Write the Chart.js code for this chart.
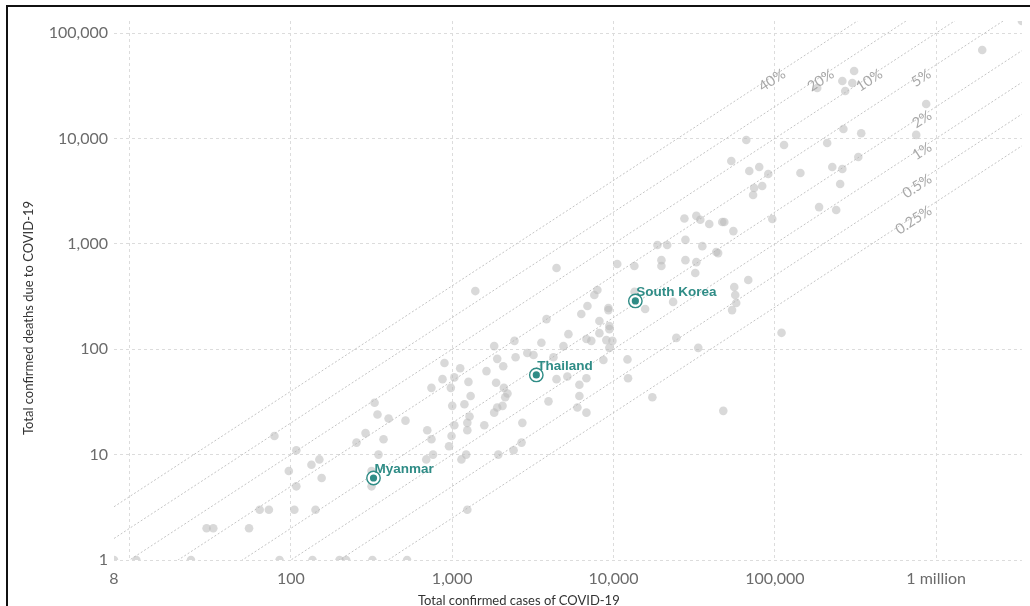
<!DOCTYPE html>
<html>
<head>
<meta charset="utf-8">
<script src="https://cdn.jsdelivr.net/npm/chart.js@4.4.0/dist/chart.umd.min.js"></script>
<style>
  html, body { margin: 0; padding: 0; background: #fff; }
  #wrap { position: relative; width: 1030px; height: 606px; overflow: hidden; }
  #frame { position: absolute; left: 6px; top: 5px; width: 1100px; height: 700px; border-top: 2px solid #111; border-left: 2px solid #111; pointer-events: none; }
  .axis-title { position: absolute; font: 13px Lato, sans-serif; color: #333; white-space: nowrap; }
  #xTitle { left: 418px; top: 592px; }
  #yTitle { left: -122px; top: 310px; width: 300px; text-align: center; transform: rotate(-90deg); }
</style>
</head>
<body>
<div id="wrap">
  <canvas id="chart" width="1030" height="606"></canvas>
  <div id="frame"></div>
  <div class="axis-title" id="xTitle">Total confirmed cases of COVID-19</div>
  <div class="axis-title" id="yTitle">Total confirmed deaths due to COVID-19</div>
</div>
<script>
// axis ranges and ticks
const xMin = 8, xMax = 3400000;
const yMin = 1, yMax = 130000;
const xTicks = [8, 10, 100, 1000, 10000, 100000, 1000000];
const xTickLabels = ['8', '', '100', '1,000', '10,000', '100,000', '1 million'];
const yTicks = [1, 10, 100, 1000, 10000, 100000];
const yTickLabels = ['1', '10', '100', '1,000', '10,000', '100,000'];

// case fatality rate guide lines
const cfrRates = [0.4, 0.2, 0.1, 0.05, 0.02, 0.01, 0.005, 0.0025];
const cfrNames = ['40%', '20%', '10%', '5%', '2%', '1%', '0.5%', '0.25%'];

// countries (grey dots)
const cases = [
  8, 11, 24, 85, 136, 200, 220, 320, 525, 30, 33, 55, 64, 73, 105, 142, 1240,
  79, 108, 97, 108, 134, 150, 155, 255, 290, 330, 344, 403, 375, 349, 316, 316,
  513, 690, 700, 743, 760, 955, 990, 1030, 1240, 1240, 1140, 1220, 1580, 1930, 2400, 2690,
  1000, 1190, 1300, 1260, 1280, 743, 870, 980, 895, 1120, 1030, 1820, 1900, 2050, 1870, 2090, 2200, 2130,
  1390, 1820, 1900, 2070, 1630, 2430, 2470, 2920, 3190, 3570, 3840, 4430, 2720, 3950, 4240, 4890, 5250,
  4430, 5170, 6140, 6790, 6140, 5970, 6790, 6790, 7280, 6310, 6890, 7600, 7940, 8170, 8170,
  9290, 9290, 9420, 9420, 9020, 9840, 9420, 8650, 12200, 12300, 10540, 13460, 13500, 15700, 17400,
  18700, 21500, 19800, 19800, 23400, 24500, 27500, 27900, 27900, 32600, 32100, 32600, 34500, 35500,
  39200, 43300, 44500, 47200, 48600, 55300, 53700, 66500, 69400, 80000, 91000, 74400, 83500, 73300,
  68400, 56000, 56800, 57600, 54300, 33500, 47900, 96400, 110000, 114000, 144000, 188000, 240000,
  254000, 211000, 227000, 262000, 266000, 343000, 329000, 183000, 262000, 302000, 273000, 310000,
  752000, 867000, 1930000, 3400000
];
const deaths = [
  1, 1, 1, 1, 1, 1, 1, 1, 1, 2, 2, 2, 3, 3, 3, 3, 3,
  15, 11, 7, 5, 8, 9, 6, 13, 16, 31, 24, 22, 14, 10, 7, 5,
  21, 9, 17, 14, 10, 12, 15, 19, 17, 20, 9, 10, 19, 10, 11, 13,
  29, 30, 36, 49, 23, 43, 52, 43, 74, 66, 54, 25, 28, 29, 48, 43, 38, 35,
  356, 107, 81, 69, 62, 120, 84, 92, 88, 115, 193, 590, 20, 32, 84, 107, 139,
  52, 55, 46, 53, 36, 28, 25, 125, 120, 216, 257, 327, 365, 185, 142,
  246, 235, 166, 155, 122, 120, 103, 79, 80, 53, 643, 615, 350, 241, 35,
  974, 974, 700, 615, 281, 128, 1740, 1090, 700, 670, 528, 1840, 1690, 950,
  1540, 836, 816, 1610, 1610, 1320, 6110, 9660, 4910, 5350, 4590, 3380, 3540, 2900,
  453, 389, 327, 274, 235, 103, 26, 1720, 143, 8650, 4700, 2230, 2090,
  3690, 9040, 5350, 5130, 12300, 11200, 6660, 30100, 35100, 33500, 28200, 43600,
  10800, 21200, 69000, 130000
];

// highlighted countries
const highlightNames = ['Myanmar', 'Thailand', 'South Korea'];
const highlightCases = [325, 3320, 13650];
const highlightDeaths = [6, 57, 287];

const teal = '#2f8c86';
const greyPts = cases.map((c, i) => ({ x: c, y: deaths[i] }));
const hlPts = highlightCases.map((c, i) => ({ x: c, y: highlightDeaths[i] }));

const labelPlugin = {
  id: 'labelPlugin',
  afterDatasetsDraw(chart) {
    const { ctx, scales: { x, y } } = chart;
    ctx.save();
    ctx.font = '14.5px Lato';
    ctx.fillStyle = '#a8a8a8';
    ctx.textAlign = 'right';
    ctx.textBaseline = 'middle';
    cfrRates.forEach((p, i) => {
      const exitCases = Math.min(xMax, yMax / p);
      const back = exitCases < xMax ? 75 : 93;
      const px = x.getPixelForValue(exitCases) - back;
      const c = x.getValueForPixel(px);
      const py = y.getPixelForValue(p * c);
      const ang = Math.atan2(y.getPixelForValue(p * c * 10) - py, x.getPixelForValue(c * 10) - px);
      ctx.save();
      ctx.translate(px, py);
      ctx.rotate(ang);
      ctx.fillText(cfrNames[i], 0, 3);
      ctx.restore();
    });
    ctx.font = 'bold 13.5px "Liberation Sans", Arial, sans-serif';
    ctx.fillStyle = teal;
    ctx.textAlign = 'left';
    highlightNames.forEach((name, i) => {
      const px = x.getPixelForValue(highlightCases[i]);
      const py = y.getPixelForValue(highlightDeaths[i]);
      ctx.fillText(name, px + 1, py - 9);
    });
    ctx.restore();
  }
};

new Chart(document.getElementById('chart'), {
  type: 'scatter',
  data: {
    datasets: [
      { data: hlPts, pointRadius: 3.6, backgroundColor: teal, borderWidth: 0, order: 0 },
      { data: hlPts, pointRadius: 6.7, backgroundColor: '#fff', borderColor: teal, borderWidth: 1.4, order: 1 },
      { data: greyPts, pointRadius: 4.3, backgroundColor: 'rgba(185,185,185,0.55)', borderWidth: 0, order: 2 },
      ...cfrRates.map(p => ({
        data: [{ x: xMin, y: p * xMin }, { x: xMax, y: p * xMax }],
        showLine: true, pointRadius: 0, borderColor: '#c4c4c4', borderWidth: 1, borderDash: [2, 2], order: 3
      }))
    ]
  },
  options: {
    responsive: false,
    animation: false,
    devicePixelRatio: 1,
    layout: { padding: { top: 21, right: 7, left: 0, bottom: 0 } },
    plugins: { legend: { display: false }, tooltip: { enabled: false } },
    scales: {
      x: {
        type: 'logarithmic', min: xMin, max: xMax,
        afterBuildTicks: s => { s.ticks = xTicks.map(v => ({ value: v })); },
        afterFit: s => { s.height = 46; },
        grid: { color: c => (c.tick && c.tick.value === xMin) ? 'rgba(0,0,0,0)' : '#dcdcdc', drawTicks: false },
        border: { display: false, dash: [3, 3] },
        ticks: { autoSkip: false, maxRotation: 0, padding: 9, color: '#6b6b6b', font: { family: 'Lato', size: 16 }, callback: (v, i) => xTickLabels[i] }
      },
      y: {
        type: 'logarithmic', min: yMin, max: yMax,
        afterBuildTicks: s => { s.ticks = yTicks.map(v => ({ value: v })); },
        afterFit: s => { s.width = 114; },
        grid: { color: '#dcdcdc', drawTicks: false },
        border: { display: false, dash: [3, 3] },
        ticks: { autoSkip: false, padding: 6, color: '#6b6b6b', font: { family: 'Lato', size: 16 }, callback: (v, i) => yTickLabels[i] }
      }
    }
  },
  plugins: [labelPlugin]
});
</script>
</body>
</html>
